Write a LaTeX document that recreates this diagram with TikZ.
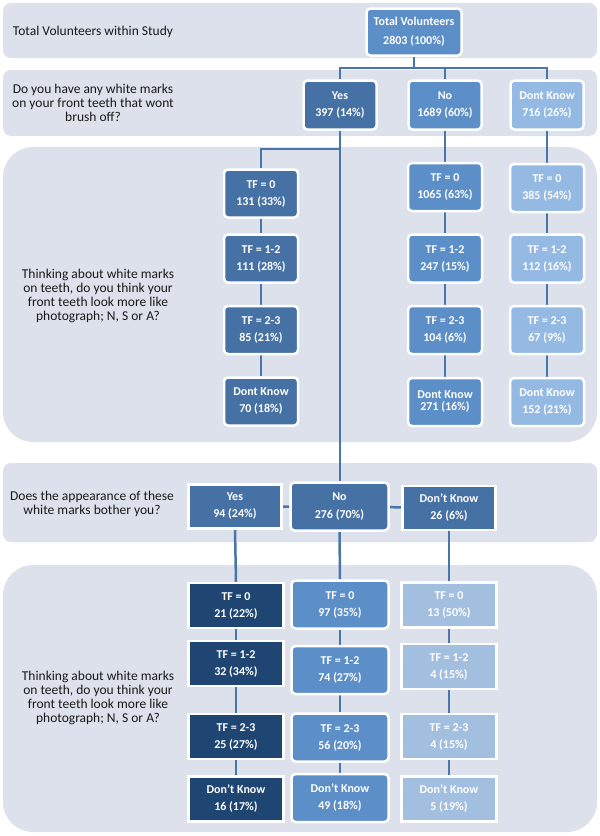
\documentclass[tikz,border=0pt]{standalone}
\usepackage{fontspec}
\setmainfont{Carlito}
\pgfdeclarelayer{bands}
\pgfdeclarelayer{links}
\pgfsetlayers{bands,links,main}
\definecolor{bandc}{RGB}{220,225,235}
\definecolor{cdark}{RGB}{70,113,164}
\definecolor{cmed}{RGB}{92,142,200}
\definecolor{clight}{RGB}{148,186,228}
\definecolor{cnavy}{RGB}{31,70,114}
\definecolor{cpale}{RGB}{163,191,224}
\definecolor{linec}{RGB}{72,118,170}
\begin{document}
\begin{tikzpicture}[x=1pt,y=-1pt,
  box/.style={draw=white,line width=2.5pt,rounded corners=4pt,text=white,align=center,
    font=\fontsize{12}{17}\selectfont\bfseries,inner sep=0pt},
  sq/.style={sharp corners},
  b2/.style={minimum width=73pt,minimum height=49pt},
  b3/.style={minimum width=74pt,minimum height=48pt},
  b4/.style={minimum width=93pt,minimum height=44pt},
  b5/.style={minimum width=95pt,minimum height=45pt},
  b5n/.style={minimum width=97pt,minimum height=48pt},
  lab/.style={align=center,font=\fontsize{13.5}{14}\selectfont,text=black!90},
  band/.style={fill=bandc},
  link/.style={draw=linec,line width=2.5pt}]
\useasboundingbox (0,0) rectangle (600,836);
\begin{pgfonlayer}{bands}
\fill[white] (0,0) rectangle (600,836);
\fill[band,rounded corners=8pt] (3,3) rectangle (597,58);
\fill[band,rounded corners=8pt] (3,70) rectangle (597,136);
\fill[band,rounded corners=30pt] (3,147) rectangle (597,442);
\fill[band,rounded corners=8pt] (3,463) rectangle (597,542);
\fill[band,rounded corners=30pt] (3,565) rectangle (597,832);
\end{pgfonlayer}
% labels
\node[lab] (l1) at (93,32) {Total Volunteers within Study};
\node[lab] (l2) at (93,103) {Do you have any white marks\\on your front teeth that wont\\brush off?};
\node[lab] (l3) at (98,296) {Thinking about white marks\\on teeth, do you think your\\front teeth look more like\\photograph; N, S or A?};
\node[lab] (l4) at (92,504) {Does the appearance of these\\white marks bother you?};
\node[lab] (l5) at (98,698) {Thinking about white marks\\on teeth, do you think your\\front teeth look more like\\photograph; N, S or A?};
% band 1
\node[box,fill=cmed,minimum width=95pt,minimum height=47pt,font=\fontsize{12}{19}\selectfont\bfseries] (tot) at (414,32) {Total Volunteers\\2803 (100\%)};
% band 2
\node[box,b2,fill=cdark] (yes2) at (340,105) {Yes\\397 (14\%)};
\node[box,b2,fill=cmed] (no2) at (445,105) {No\\1689 (60\%)};
\node[box,b2,fill=clight] (dk2) at (547,105) {Dont Know\\716 (26\%)};
% band 3
\node[box,b3,fill=cdark] (ya) at (261,193.5) {TF = 0\\131 (33\%)};
\node[box,b3,fill=cdark] (yb) at (261,258.5) {TF = 1-2\\111 (28\%)};
\node[box,b3,fill=cdark] (yc) at (261,330) {TF = 2-3\\85 (21\%)};
\node[box,b3,fill=cdark] (yd) at (261,401.5) {Dont Know\\70 (18\%)};
\node[box,b3,fill=cmed] (na) at (445,187) {TF = 0\\1065 (63\%)};
\node[box,b3,fill=cmed] (nb) at (445,258.5) {TF = 1-2\\247 (15\%)};
\node[box,b3,fill=cmed] (nc) at (445,330) {TF = 2-3\\104 (6\%)};
\node[box,b3,fill=cmed] (nd) at (445,402) {Dont Know\\[-5pt]271 (16\%)};
\node[box,b3,fill=clight] (da) at (547,188) {TF = 0\\385 (54\%)};
\node[box,b3,fill=clight] (db) at (547,258.5) {TF = 1-2\\112 (16\%)};
\node[box,b3,fill=clight] (dc) at (547,330) {TF = 2-3\\67 (9\%)};
\node[box,b3,fill=clight] (dd) at (547,402) {Dont Know\\152 (21\%)};
% band 4
\node[box,b4,sq,fill=cdark] (yes4) at (235,506.5) {Yes\\94 (24\%)};
\node[box,fill=cdark,minimum width=98pt,minimum height=48pt] (no4) at (339.5,506.5) {No\\[1pt]276 (70\%)};
\node[box,b4,sq,fill=cdark] (dk4) at (449,508) {Don’t Know\\26 (6\%)};
% band 5
\node[box,b5,sq,fill=cnavy] (y5a) at (236,605.5) {TF = 0\\21 (22\%)};
\node[box,b5,sq,fill=cnavy] (y5b) at (236,663.5) {TF = 1-2\\32 (34\%)};
\node[box,b5,sq,fill=cnavy] (y5c) at (236,736.5) {TF = 2-3\\25 (27\%)};
\node[box,b5,sq,fill=cnavy] (y5d) at (236,799) {Don’t Know\\16 (17\%)};
\node[box,b5n,fill=cmed] (n5a) at (340,604.5) {TF = 0\\97 (35\%)};
\node[box,b5n,fill=cmed] (n5b) at (340,670) {TF = 1-2\\74 (27\%)};
\node[box,b5n,fill=cmed] (n5c) at (340,737.5) {TF = 2-3\\56 (20\%)};
\node[box,b5n,fill=cmed] (n5d) at (340,798) {Don’t Know\\49 (18\%)};
\node[box,b5,sq,fill=cpale] (d5a) at (449,605) {TF = 0\\13 (50\%)};
\node[box,b5,sq,fill=cpale] (d5b) at (449,666.5) {TF = 1-2\\4 (15\%)};
\node[box,b5,sq,fill=cpale] (d5c) at (449,736.5) {TF = 2-3\\4 (15\%)};
\node[box,b5,sq,fill=cpale] (d5d) at (449,799) {Don’t Know\\5 (19\%)};
% connectors
\begin{pgfonlayer}{links}
\draw[link] (tot.south) -- ++(0,11) coordinate (j1);
\draw[link] (j1) -| (yes2.north);
\draw[link] (j1) -| (no2.north);
\draw[link] (j1) -| (dk2.north);
\draw[link] (yes2.south) -- (yes2.south |- no4.north);
\draw[link] (yes2.south) ++(0,18) coordinate (j2) -| (ya.north);
\draw[link] (ya) -- (yb) -- (yc) -- (yd);
\draw[link] (no2.south) -- (na.north);
\draw[link] (na) -- (nb) -- (nc) -- (nd);
\draw[link] (dk2.south) -- (da.north);
\draw[link] (da) -- (db) -- (dc) -- (dd);
\draw[link] (yes4) -- (no4) -- (dk4);
\draw[link] (yes4.south) -- (y5a.north);
\draw[link] (no4.south) -- (n5a.north);
\draw[link] (dk4.south) -- (d5a.north);
\draw[link] (y5a) -- (y5b) -- (y5c) -- (y5d);
\draw[link] (n5a) -- (n5b) -- (n5c) -- (n5d);
\draw[link] (d5a) -- (d5b) -- (d5c) -- (d5d);
\end{pgfonlayer}
\end{tikzpicture}
\end{document}
